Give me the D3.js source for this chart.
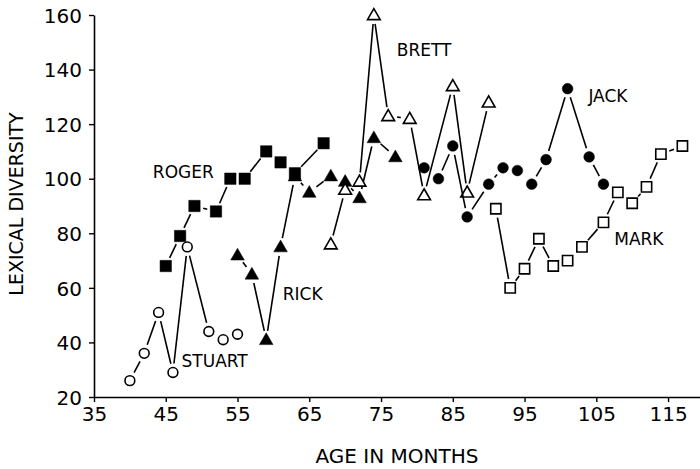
<!DOCTYPE html>
<html>
<head>
<meta charset="utf-8">
<script src="https://cdn.jsdelivr.net/npm/d3@7"></script>
<style>
  html, body { margin: 0; padding: 0; background: #fff; }
  svg { display: block; }
  text { font-family: "DejaVu Sans", "Liberation Sans", sans-serif; fill: #000; }
</style>
</head>
<body>
<svg id="chart" width="700" height="469"></svg>
<script>
// ---- data (age in months, lexical diversity) ----
const stuartAge = [40, 42, 44, 46, 48, 51, 53, 55];
const stuartLD  = [26, 36, 51, 29, 75, 44, 41, 43];

const rogerAge = [45, 47, 49, 52, 54, 56, 59, 61, 63, 67];
const rogerLD  = [68, 79, 90, 88, 100, 100, 110, 106, 102, 113];

const rickAge = [55, 57, 59, 61, 63, 65, 68, 70, 72, 74, 77];
const rickLD  = [72, 65, 41, 75, 101, 95, 101, 99, 93, 115, 108];

const brettAge = [68, 70, 72, 74, 76, 79, 81, 85, 87, 90];
const brettLD  = [76, 96, 99, 160, 123, 122, 94, 134, 95, 128];

const jackAge = [81, 83, 85, 87, 90, 92, 94, 96, 98, 101, 104, 106];
const jackLD  = [104, 100, 112, 86, 98, 104, 103, 98, 107, 133, 108, 98];

const markAge = [91, 93, 95, 97, 99, 101, 103, 106, 108, 110, 112, 114, 117];
const markLD  = [89, 60, 67, 78, 68, 70, 75, 84, 95, 91, 97, 109, 112];

const xTickValues = [35, 45, 55, 65, 75, 85, 95, 105, 115];
const yTickValues = [20, 40, 60, 80, 100, 120, 140, 160];

const childNames = ["RICK", "ROGER", "STUART", "BRETT", "JACK", "MARK"];
const markerKinds = ["triangleFilled", "squareFilled", "circleOpen", "triangleOpen", "circleFilled", "squareOpen"];
const seriesAges = [rickAge, rogerAge, stuartAge, brettAge, jackAge, markAge];
const seriesValues = [rickLD, rogerLD, stuartLD, brettLD, jackLD, markLD];

// label anchors in data units (age, value)
const labelAge = [61.3, 43.2, 47.2, 77.2, 103.9, 107.5];
const labelVal = [57.7, 102.6, 33.3, 147.2, 130.3, 77.9];

// ---- drawing ----
const svg = d3.select("#chart");
const x = d3.scaleLinear().domain([35, 119.45]).range([94, 700]);
const y = d3.scaleLinear().domain([20, 160]).range([397, 15]);

const xAxis = d3.axisBottom(x).tickValues(xTickValues).tickSize(5).tickSizeOuter(0).tickPadding(5);
const yAxis = d3.axisLeft(y).tickValues(yTickValues).tickSize(5).tickSizeOuter(0).tickPadding(7);

const gx = svg.append("g").attr("transform", "translate(0,397)").call(xAxis);
const gy = svg.append("g").attr("transform", "translate(94,0)").call(yAxis);
[gx, gy].forEach(g => {
  g.selectAll("path.domain").attr("stroke", "#000").attr("stroke-width", 1.6);
  g.selectAll(".tick line").attr("stroke", "#000").attr("stroke-width", 1.4);
  g.selectAll(".tick text")
    .style("font-family", '"DejaVu Sans", sans-serif')
    .style("font-size", "20px")
    .attr("fill", "#000");
});
gy.selectAll(".tick text").attr("dy", "0.36em");

svg.append("text")
  .attr("x", 397).attr("y", 463)
  .attr("text-anchor", "middle")
  .style("font-size", "20px")
  .text("AGE IN MONTHS");

svg.append("text")
  .attr("transform", "translate(23,204) rotate(-90)")
  .attr("text-anchor", "middle")
  .style("font-size", "19px")
  .text("LEXICAL DIVERSITY");

const gap = 9;
const plot = svg.append("g");

seriesAges.forEach((ages, si) => {
  const vals = seriesValues[si];
  const pts = ages.map((a, i) => [x(a), y(vals[i])]);
  const g = plot.append("g");
  // connecting segments, cut short near the markers
  for (let i = 0; i < pts.length - 1; i++) {
    const [x1, y1] = pts[i], [x2, y2] = pts[i + 1];
    const dx = x2 - x1, dy = y2 - y1, len = Math.hypot(dx, dy);
    if (len - 2 * gap < 2) continue;
    const ux = dx / len, uy = dy / len;
    g.append("line")
      .attr("x1", x1 + ux * gap).attr("y1", y1 + uy * gap)
      .attr("x2", x2 - ux * gap).attr("y2", y2 - uy * gap)
      .attr("stroke", "#000").attr("stroke-width", 1.6);
  }
  const kind = markerKinds[si];
  const filled = kind.endsWith("Filled");
  let sym, size;
  if (kind.startsWith("triangle")) { sym = d3.symbolTriangle; size = filled ? 80 : 70; }
  else if (kind.startsWith("square")) { sym = d3.symbolSquare; size = filled ? 130 : 105; }
  else { sym = d3.symbolCircle; size = filled ? 90 : 75; }
  g.selectAll("path.pt").data(pts).join("path")
    .attr("class", "pt")
    .attr("transform", d => `translate(${d[0]},${d[1] + (kind.startsWith("triangle") ? 1 : 0)})`)
    .attr("d", d3.symbol().type(sym).size(size))
    .attr("fill", filled ? "#000" : "#fff")
    .attr("stroke", "#000")
    .attr("stroke-width", filled ? 0.5 : 1.6);

  svg.append("text")
    .attr("x", x(labelAge[si])).attr("y", y(labelVal[si]))
    .attr("dy", "0.36em")
    .style("font-size", "17px")
    .text(childNames[si]);
});
</script>
</body>
</html>
